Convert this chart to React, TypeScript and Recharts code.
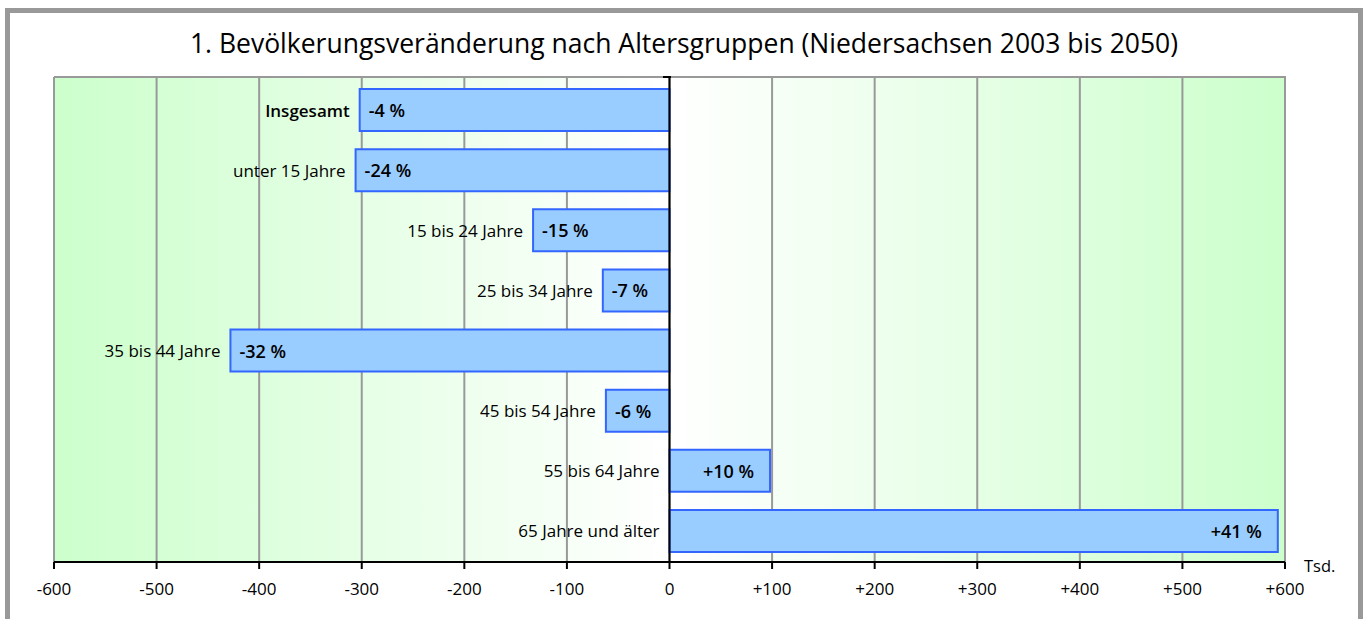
import React from "react";
import {
  BarChart,
  Bar,
  XAxis,
  YAxis,
  CartesianGrid,
  ReferenceLine,
  LabelList,
} from "recharts";

const categories = [
  "Insgesamt",
  "unter 15 Jahre",
  "15 bis 24 Jahre",
  "25 bis 34 Jahre",
  "35 bis 44 Jahre",
  "45 bis 54 Jahre",
  "55 bis 64 Jahre",
  "65 Jahre und älter",
];
const changeThousands = [-302, -306, -133, -65, -428, -62, 98, 593];
const percentLabels = ["-4 %", "-24 %", "-15 %", "-7 %", "-32 %", "-6 %", "+10 %", "+41 %"];
const xTicks = [-600, -500, -400, -300, -200, -100, 0, 100, 200, 300, 400, 500, 600];

const data = categories.map((name, i) => ({
  name,
  value: changeThousands[i],
  pct: percentLabels[i],
}));

const FONT = "'Open Sans', sans-serif";

const BarLabels = (props: any) => {
  const { x, y, width, height, index } = props;
  const left = Math.min(x, x + width);
  const right = Math.max(x, x + width);
  const v = changeThousands[index];
  const cy = y + height / 2;
  return (
    <g>
      <text
        x={left - 10}
        y={cy}
        textAnchor="end"
        dominantBaseline="central"
        fontFamily={FONT}
        fontSize={17}
        fontWeight={index === 0 ? 600 : 400}
        fill="#000"
      >
        {categories[index]}
      </text>
      <text
        x={v < 0 ? left + 9 : right - 16}
        y={cy}
        textAnchor={v < 0 ? "start" : "end"}
        dominantBaseline="central"
        fontFamily={FONT}
        fontSize={18}
        fontWeight={600}
        fill="#000"
      >
        {percentLabels[index]}
      </text>
    </g>
  );
};

export default function App() {
  return (
    <div
      style={{
        position: "absolute",
        left: 0,
        top: 0,
        width: 1366,
        height: 619,
        background: "#fff",
        overflow: "hidden",
        fontFamily: FONT,
      }}
    >
      <div
        style={{
          position: "absolute",
          left: 5,
          top: 8,
          width: 1358,
          height: 640,
          border: "5px solid #999",
          borderBottom: "none",
          boxSizing: "border-box",
        }}
      />
      <div
        style={{
          position: "absolute",
          left: 5,
          width: 1358,
          top: 24,
          textAlign: "center",
          fontSize: 26.5,
          lineHeight: "38px",
          color: "#000",
        }}
      >
        1. Bevölkerungsveränderung nach Altersgruppen (Niedersachsen 2003 bis 2050)
      </div>
      <div style={{ position: "absolute", left: 0, top: 0 }}>
        <BarChart
          width={1366}
          height={619}
          data={data}
          layout="vertical"
          margin={{ top: 77, right: 81, bottom: 0, left: 54 }}
          barSize={42}
        >
          <defs>
            <linearGradient id="bgGrad" x1="0" y1="0" x2="1" y2="0">
              <stop offset="0%" stopColor="#ccffcc" />
              <stop offset="50%" stopColor="#ffffff" />
              <stop offset="100%" stopColor="#ccffcc" />
            </linearGradient>
          </defs>
          <CartesianGrid
            horizontal={false}
            vertical={true}
            stroke="#999"
            strokeWidth={2}
            fill="url(#bgGrad)"
            fillOpacity={1}
          />
          <XAxis
            type="number"
            domain={[-600, 600]}
            ticks={xTicks}
            interval={0}
            height={57}
            tickFormatter={(v: number) => (v > 0 ? "+" + v : String(v))}
            axisLine={{ stroke: "#000", strokeWidth: 2 }}
            tickLine={{ stroke: "#000", strokeWidth: 2 }}
            tickSize={7}
            tick={{ fill: "#000", fontSize: 17, fontFamily: FONT, dy: 12 }}
          />
          <YAxis type="category" dataKey="name" hide width={0} padding={{ top: 3, bottom: 1 }} />
          <Bar
            dataKey="value"
            fill="#99ccff"
            stroke="#3366ff"
            strokeWidth={2}
            isAnimationActive={false}
          >
            <LabelList dataKey="value" content={BarLabels} />
          </Bar>
          <ReferenceLine x={0} stroke="#000" strokeWidth={2} />
        </BarChart>
      </div>
      <div
        style={{
          position: "absolute",
          left: 54,
          top: 76,
          width: 1232,
          height: 2,
          background: "#999",
        }}
      />
      <div
        style={{
          position: "absolute",
          left: 663,
          top: 76,
          width: 8,
          height: 2,
          background: "#000",
        }}
      />
      <div
        style={{
          position: "absolute",
          left: 1304,
          top: 555,
          fontSize: 16.5,
          lineHeight: "22px",
          color: "#000",
        }}
      >
        Tsd.
      </div>
    </div>
  );
}
